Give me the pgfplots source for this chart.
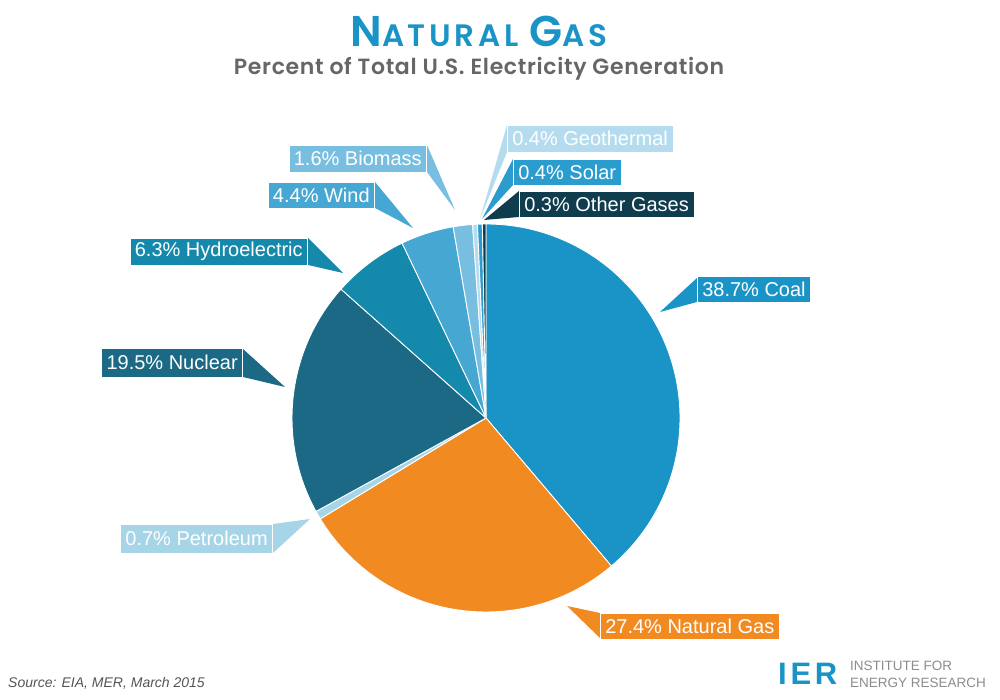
\documentclass[border=0pt]{standalone}
\usepackage{pgfplots}
\usepackage{pgfplotstable}
\pgfplotsset{compat=1.18}
\usepackage{fontspec}
\setmainfont{Liberation Sans}
\newfontfamily\titlefont{Poppins}[BoldFont={* SemiBold}]

\definecolor{pie0}{HTML}{1A93C6}
\definecolor{pie1}{HTML}{F28A22}
\definecolor{pie2}{HTML}{A7D5E8}
\definecolor{pie3}{HTML}{1B6985}
\definecolor{pie4}{HTML}{1589AB}
\definecolor{pie5}{HTML}{46A7D3}
\definecolor{pie6}{HTML}{78BEE0}
\definecolor{pie7}{HTML}{B5DCEE}
\definecolor{pie8}{HTML}{2A9CCD}
\definecolor{pie9}{HTML}{0F3D4E}
\definecolor{titleblue}{HTML}{1A93C6}
\definecolor{subgray}{HTML}{666666}
\definecolor{srcgray}{HTML}{555555}
\definecolor{iergray}{HTML}{8C8C8C}

\pgfplotstableread{
name value
Coal 38.7
NaturalGas 27.4
Petroleum 0.7
Nuclear 19.5
Hydroelectric 6.3
Wind 4.4
Biomass 1.6
Geothermal 0.4
Solar 0.4
OtherGases 0.3
}\piedata

% cumulative angles computed from the table (clockwise from 12 o'clock)
\pgfplotstablegetrowsof{\piedata}%
\pgfmathtruncatemacro\nrows{\pgfplotsretval-1}%
\xdef\pietotal{0}%
\foreach \i in {0,...,\nrows}{%
  \pgfplotstablegetelem{\i}{value}\of\piedata
  \pgfmathsetmacro\tmpt{\pietotal+\pgfplotsretval}%
  \xdef\pietotal{\tmpt}%
}%
\xdef\piecum{0}%
\foreach \i in {0,...,\nrows}{%
  \pgfplotstablegetelem{\i}{value}\of\piedata
  \pgfmathsetmacro\tmps{90-360*(\piecum/\pietotal)}%
  \pgfmathsetmacro\tmpe{90-360*((\piecum+\pgfplotsretval)/\pietotal)}%
  \expandafter\xdef\csname ws\i\endcsname{\tmps}%
  \expandafter\xdef\csname we\i\endcsname{\tmpe}%
  \pgfmathsetmacro\tmpc{\piecum+\pgfplotsretval}%
  \xdef\piecum{\tmpc}%
}%

\newcommand{\lab}[6]{% x, ycenter, anchor, color, height, text
  \node[fill=#4, draw=white, line width=0.6pt, text=white, anchor=#3, inner xsep=5pt, inner ysep=0pt,
        minimum height=#5pt, font=\fontsize{20}{22}\selectfont] at (axis cs:#1,#2) {#6};}
\newcommand{\tri}[7]{\fill[#7] (axis cs:#1,#2) -- (axis cs:#3,#4) -- (axis cs:#5,#6) -- cycle;}

\begin{document}
\begin{tikzpicture}
\begin{axis}[
  x=1pt, y=1pt,
  xmin=0, xmax=1000, ymin=0, ymax=700,
  hide axis, clip=false,
]
\path (axis cs:0,0) rectangle (axis cs:1000,700);

% pie wedges
\pgfplotsinvokeforeach{0,...,9}{%
  \fill[pie#1, draw=white, line width=0.9pt, line join=round]
    (axis cs:486,282) -- ++(\csname ws#1\endcsname:194pt)
    arc[start angle=\csname ws#1\endcsname, end angle=\csname we#1\endcsname, radius=194pt] -- cycle;
}

% pointers
\tri{697}{422}{697}{398}{660}{388}{pie0}
\tri{600}{87}{600}{62}{567}{94}{pie1}
\tri{273}{176}{273}{147}{310}{181}{pie2}
\tri{243}{351}{243}{323}{285}{313}{pie3}
\tri{308}{462}{308}{435}{343}{427}{pie4}
\tri{375}{518}{375}{492}{413}{472}{pie5}
\tri{427}{555}{427}{528}{455}{490}{pie6}
\tri{507}{575}{507}{548}{480}{481}{pie7}
\tri{513}{541}{513}{515}{482}{481}{pie8}
\tri{519}{509}{519}{483}{484}{480}{pie9}

% labels
\lab{697}{410.5}{west}{pie0}{26}{38.7\% Coal}
\lab{600}{74}{west}{pie1}{26}{27.4\% Natural Gas}
\lab{273}{161.5}{east}{pie2}{29}{0.7\% Petroleum}
\lab{243}{337.5}{east}{pie3}{29}{19.5\% Nuclear}
\lab{308}{448.5}{east}{pie4}{27}{6.3\% Hydroelectric}
\lab{375}{505}{east}{pie5}{26}{4.4\% Wind}
\lab{427}{541.5}{east}{pie6}{27}{1.6\% Biomass}
\lab{507}{561.5}{west}{pie7}{27}{0.4\% Geothermal}
\lab{513}{528}{west}{pie8}{26}{0.4\% Solar}
\lab{519}{496}{west}{pie9}{26}{0.3\% Other Gases}

% titles
\node[anchor=base, text=titleblue, inner sep=0pt] at (axis cs:479,653)
  {\titlefont\bfseries\addfontfeature{LetterSpace=12}\fontsize{43}{43}\selectfont N\fontsize{31}{31}\selectfont ATURAL\ \fontsize{43}{43}\selectfont G\fontsize{31}{31}\selectfont AS};
\node[anchor=base, text=subgray, inner sep=0pt] at (axis cs:479,625)
  {\titlefont\bfseries\addfontfeature{LetterSpace=3}\fontsize{22}{22}\selectfont Percent of Total U.S. Electricity Generation};

% footer
\node[anchor=base west, text=srcgray, inner sep=0pt] at (axis cs:8,12)
  {\fontsize{14}{14}\selectfont\itshape Source: EIA, MER, March 2015};
\node[anchor=base west, text=titleblue, inner sep=0pt] at (axis cs:778,15)
  {\fontsize{31}{31}\selectfont\bfseries\addfontfeature{LetterSpace=12}IER};
\node[anchor=base west, text=iergray, inner sep=0pt] at (axis cs:850,29)
  {\fontsize{13.5}{14}\selectfont INSTITUTE FOR};
\node[anchor=base west, text=iergray, inner sep=0pt] at (axis cs:850,12)
  {\fontsize{13.5}{14}\selectfont ENERGY RESEARCH};
\end{axis}
\end{tikzpicture}
\end{document}
